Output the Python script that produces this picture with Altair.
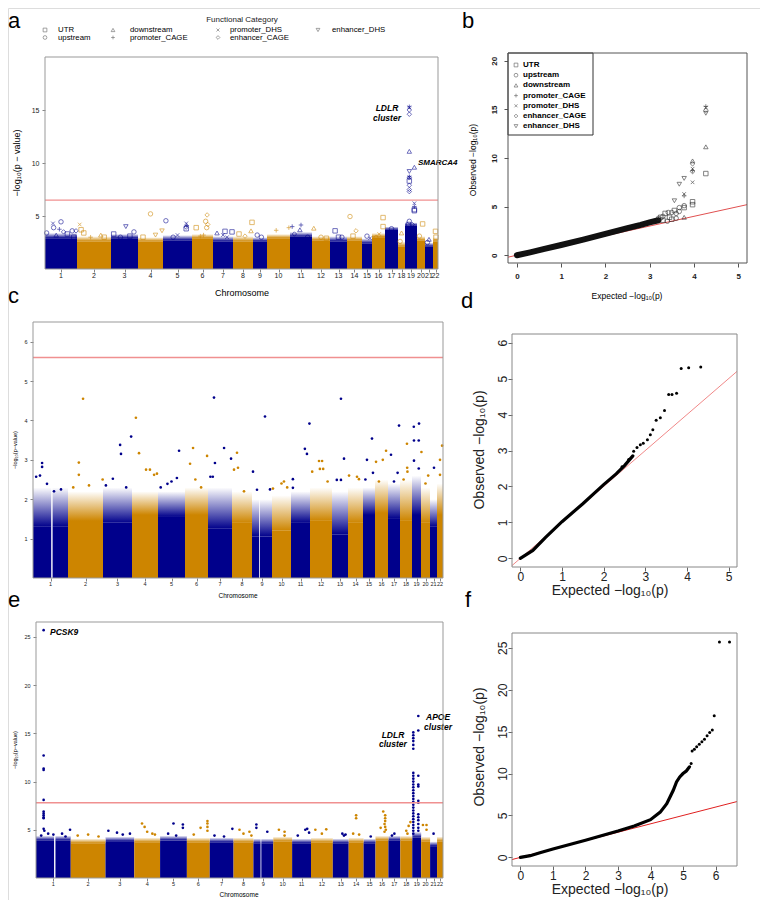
import altair as alt
import numpy as np
import pandas as pd

FONT = "Liberation Sans"
BLUE = "#00008B"
ORANGE = "#CD8500"
RED_THR = "#F09090"
CHROMS = [str(i) for i in range(1, 23)]

CATS = ["UTR", "upstream", "downstream", "promoter_CAGE",
        "promoter_DHS", "enhancer_CAGE", "enhancer_DHS"]
CAT_SHAPES = ["square", "circle", "triangle-up", "M-1,0H1M0,-1V1",
              "M-0.8,-0.8L0.8,0.8M-0.8,0.8L0.8,-0.8", "diamond", "triangle-down"]
CODE = {"U": "UTR", "up": "upstream", "dn": "downstream", "pC": "promoter_CAGE",
        "pD": "promoter_DHS", "eC": "enhancer_CAGE", "eD": "enhancer_DHS"}

# ---------------- panel a : functional-category Manhattan ----------------
a_widths = [32, 34, 27, 25, 29, 21, 20, 20, 14, 23, 22, 18, 17, 15, 10, 13, 13, 7, 12, 8, 8, 5]
a_band = [2.9, 2.6, 2.9, 2.6, 2.7, 2.9, 2.6, 2.6, 2.6, 2.9, 3.05, 2.7, 2.6, 2.7, 2.4, 3.0, 3.7, 2.1, 4.1, 2.7, 2.1, 2.6]
a_top = [3.4, 3.1, 3.3, 3.0, 3.2, 3.3, 3.1, 3.1, 3.0, 3.3, 3.5, 3.1, 3.1, 3.1, 2.9, 3.4, 4.0, 2.6, 4.4, 3.1, 2.5, 3.0]
a_threshold = 6.5
a_points = [
    (1, 0.05, 3.4, "up"), (1, 0.25, 4.3, "pD"), (1, 0.27, 3.9, "up"), (1, 0.5, 4.45, "up"), (1, 0.45, 3.75, "pC"),
    (1, 0.58, 3.5, "eC"), (1, 0.7, 3.3, "U"), (1, 0.85, 3.6, "up"), (1, 0.35, 3.2, "dn"), (1, 0.97, 3.6, "eC"),
    (1, 0.9, 3.0, "U"),
    (2, 0.08, 4.2, "pD"), (2, 0.12, 3.7, "U"), (2, 0.2, 3.4, "U"), (2, 0.7, 3.2, "dn"), (2, 0.8, 3.0, "U"), (2, 0.4, 3.0, "pC"),
    (3, 0.55, 4.0, "eD"), (3, 0.1, 3.3, "U"), (3, 0.85, 3.5, "up"), (3, 0.7, 3.1, "U"), (3, 0.35, 3.0, "up"),
    (4, 0.5, 5.2, "up"), (4, 0.7, 3.2, "eD"), (4, 0.2, 3.0, "U"), (4, 0.96, 3.6, "eD"),
    (5, 0.1, 4.55, "up"), (5, 0.8, 4.3, "pD"), (5, 0.82, 4.1, "pC"), (5, 0.8, 3.95, "eC"), (5, 0.8, 3.8, "U"),
    (5, 0.5, 3.2, "pD"), (5, 0.35, 3.0, "up"),
    (6, 0.72, 5.1, "eC"), (6, 0.65, 4.5, "up"), (6, 0.75, 4.2, "eC"), (6, 0.7, 3.9, "up"), (6, 0.55, 3.2, "pC"),
    (6, 0.2, 3.9, "U"), (6, 0.4, 3.1, "pC"),
    (7, 0.2, 3.4, "dn"), (7, 0.6, 3.55, "U"), (7, 0.95, 3.5, "U"), (7, 0.7, 3.0, "pD"), (7, 0.5, 3.2, "pD"),
    (8, 0.3, 3.3, "U"), (8, 0.6, 3.1, "eC"), (8, 0.95, 4.4, "U"), (8, 0.9, 3.6, "dn"),
    (9, 0.3, 3.2, "up"), (9, 0.6, 3.0, "up"),
    (10, 0.4, 3.65, "pC"), (10, 0.95, 3.9, "pC"),
    (11, 0.1, 4.0, "pC"), (11, 0.5, 4.15, "pC"), (11, 0.45, 3.7, "dn"), (11, 0.2, 3.3, "eC"), (11, 0.8, 3.0, "up"),
    (12, 0.1, 3.85, "dn"), (12, 0.5, 3.0, "up"), (12, 0.8, 2.9, "U"),
    (13, 0.3, 3.6, "U"), (13, 0.5, 3.0, "U"), (13, 0.7, 3.0, "up"),
    (14, 0.2, 4.95, "up"), (14, 0.6, 3.6, "eC"), (14, 0.4, 3.1, "U"),
    (15, 0.5, 3.1, "up"), (15, 0.8, 2.9, "pD"),
    (16, 0.85, 4.85, "U"), (16, 0.85, 4.0, "U"), (16, 0.55, 3.3, "pD"), (16, 0.3, 3.0, "eC"),
    (17, 0.5, 3.8, "up"), (17, 0.3, 3.5, "dn"), (17, 0.8, 3.3, "pC"),
    (18, 0.5, 3.4, "dn"), (18, 0.3, 2.6, "up"),
    (19, 0.36, 15.3, "pC"), (19, 0.36, 15.25, "pD"), (19, 0.36, 15.0, "eC"), (19, 0.36, 14.6, "eC"),
    (19, 0.36, 11.1, "dn"), (19, 0.78, 9.6, "dn"), (19, 0.36, 9.2, "eD"), (19, 0.36, 8.7, "pC"),
    (19, 0.36, 8.65, "pD"), (19, 0.36, 8.6, "eC"), (19, 0.36, 8.3, "U"), (19, 0.36, 7.9, "eC"),
    (19, 0.36, 7.5, "eC"), (19, 0.36, 7.3, "eC"), (19, 0.78, 6.2, "pD"), (19, 0.78, 5.9, "pC"),
    (19, 0.78, 5.6, "U"), (19, 0.78, 5.5, "U"), (19, 0.36, 4.5, "up"), (19, 0.3, 4.2, "U"), (19, 0.6, 4.2, "eC"),
    (20, 0.7, 4.25, "U"), (20, 0.3, 3.1, "up"),
    (21, 0.5, 2.8, "dn"), (21, 0.3, 2.5, "up"),
    (22, 0.5, 3.55, "U"), (22, 0.6, 3.0, "U"),
]

# ---------------- panel b : QQ by category ----------------
b_dense_exp = [0.0, 0.3, 0.6, 1.0, 1.5, 2.0, 2.5, 2.8, 3.0, 3.2]
b_dense_obs = [0.0, 0.3, 0.63, 1.05, 1.6, 2.2, 2.78, 3.12, 3.38, 3.6]
b_points = [
    (4.27, 15.3, "pC"), (4.27, 15.2, "pD"), (4.27, 14.9, "eC"), (4.27, 14.6, "eD"), (4.27, 11.15, "dn"), (4.27, 8.4, "U"),
    (3.97, 9.7, "dn"), (3.97, 9.4, "eC"), (3.97, 8.9, "pD"), (3.97, 8.7, "pC"), (3.97, 8.6, "eC"), (3.97, 7.5, "pD"),
    (3.97, 5.5, "U"), (3.97, 5.2, "U"),
    (3.78, 7.9, "eD"), (3.78, 6.3, "pD"), (3.78, 6.1, "pC"), (3.78, 5.1, "up"), (3.78, 4.9, "U"), (3.78, 3.9, "dn"),
    (3.67, 7.3, "eD"), (3.67, 4.9, "up"), (3.67, 4.5, "up"),
    (3.56, 5.6, "eD"), (3.56, 4.6, "U"), (3.5, 4.4, "up"), (3.42, 4.4, "up"), (3.35, 4.3, "U"), (3.6, 4.3, "up"),
    (3.3, 4.0, "up"), (3.25, 3.9, "U"), (3.2, 3.8, "up"), (3.45, 3.9, "U"), (3.4, 3.5, "up"), (3.3, 3.6, "U"),
    (3.5, 3.7, "U"), (3.6, 3.8, "up"),
]

# ---------------- panels c / e : genome-wide Manhattan ----------------
ce_widths = [35, 35, 29, 26, 27, 23, 24, 20, 20, 19, 19, 22, 16, 15, 12, 13, 12, 12, 9, 9, 7, 6]
ce_gaps = {1: (0.52, 0.56), 9: (0.36, 0.40)}
c_solid = [1.3, 1.45, 1.4, 1.6, 1.55, 1.6, 1.25, 1.4, 1.05, 1.2, 1.4, 1.45, 1.1, 1.4, 1.6, 1.65, 1.5, 1.45, 1.6, 1.4, 1.3, 1.6]
c_top = [2.3, 2.2, 2.3, 2.2, 2.2, 2.3, 2.3, 2.2, 2.0, 2.1, 2.2, 2.3, 2.2, 2.3, 2.3, 2.5, 2.4, 2.5, 2.6, 2.3, 2.0, 2.4]
c_threshold = 5.6
c_points = [
    (2, 0.43, 4.55), (7, 0.25, 4.58), (4, 0.15, 4.07), (3, 0.97, 3.59), (3, 0.59, 3.38), (3, 0.62, 3.15),
    (4, 0.27, 3.17), (2, 0.31, 2.93), (2, 0.31, 2.62), (1, 0.26, 2.92), (1, 0.26, 2.82), (1, 0.2, 2.6),
    (1, 0.09, 2.57), (4, 0.54, 2.75), (4, 0.69, 2.75), (4, 0.85, 2.62), (4, 0.96, 2.65), (5, 0.78, 3.23),
    (6, 0.35, 3.3), (6, 0.22, 2.9), (6, 0.96, 3.1), (7, 0.29, 2.92), (7, 0.67, 3.3), (7, 0.96, 3.03),
    (8, 0.25, 3.18), (8, 0.1, 2.75), (7, 0.1, 2.57), (7, 0.2, 2.57), (6, 0.45, 2.5), (5, 0.7, 2.54),
    (5, 0.35, 2.39), (2, 0.99, 2.5), (3, 0.34, 2.52), (1, 0.4, 2.39),
    (13, 0.56, 4.55), (9, 0.65, 4.1), (11, 0.97, 3.92), (11, 0.73, 3.28), (11, 0.84, 3.15), (13, 0.75, 3.03),
    (8, 0.3, 2.8), (9, 0.05, 2.7), (12, 0.41, 2.97), (12, 0.55, 2.97), (12, 0.45, 2.77), (12, 0.6, 2.77),
    (12, 0.1, 2.7), (15, 0.75, 3.54), (15, 0.33, 3.0), (15, 0.83, 2.67), (16, 0.08, 2.95), (16, 0.6, 3.0),
    (16, 0.85, 3.23), (17, 0.25, 3.13), (17, 0.92, 3.87), (18, 0.58, 3.41), (18, 0.6, 2.8), (18, 0.62, 2.7),
    (19, 0.2, 3.84), (19, 0.78, 3.92), (19, 0.22, 3.49), (19, 0.75, 3.49), (19, 0.22, 2.98), (19, 0.75, 2.78),
    (20, 0.05, 3.2), (22, 0.5, 3.0), (22, 0.85, 3.36), (22, 0.5, 2.62), (21, 0.57, 2.8), (17, 0.8, 2.67),
    (13, 0.3, 2.49), (13, 0.56, 2.49), (14, 0.07, 2.6), (14, 0.6, 2.57), (14, 0.73, 2.51), (11, 0.1, 2.51),
    (11, 0.1, 2.29), (10, 0.63, 2.45), (10, 0.5, 2.4), (9, 0.25, 2.24), (10, 0.05, 2.27),
    (1, 0.6, 2.2), (1, 0.8, 2.25), (2, 0.6, 2.35), (2, 0.15, 2.3), (3, 0.1, 2.35), (3, 0.8, 2.3),
    (5, 0.1, 2.3), (5, 0.5, 2.45), (6, 0.7, 2.3), (8, 0.6, 2.2), (9, 0.9, 2.25), (10, 0.8, 2.3),
    (12, 0.8, 2.45), (15, 0.2, 2.5), (16, 0.3, 2.45), (17, 0.5, 2.45), (18, 0.3, 2.5), (20, 0.5, 2.4),
    (20, 0.8, 2.6),
]

e_solid = [3.9, 3.6, 3.8, 3.7, 3.9, 3.7, 3.7, 3.7, 3.6, 3.8, 3.6, 3.7, 3.6, 3.7, 3.6, 3.9, 3.9, 3.9, 4.2, 3.8, 3.3, 3.8]
e_top = [4.4, 4.1, 4.3, 4.2, 4.4, 4.2, 4.2, 4.2, 4.1, 4.3, 4.1, 4.2, 4.1, 4.2, 4.1, 4.4, 4.4, 4.4, 4.8, 4.3, 3.8, 4.3]
e_threshold = 7.8
e_points = [
    (1, 0.22, 25.7), (1, 0.22, 12.7), (1, 0.22, 11.35), (1, 0.22, 11.2), (1, 0.22, 8.1), (1, 0.22, 6.9),
    (1, 0.22, 6.7), (1, 0.22, 6.5), (1, 0.22, 6.3), (1, 0.22, 6.2), (1, 0.22, 5.1), (1, 0.24, 4.9),
    (1, 0.35, 4.6), (1, 0.5, 4.5), (1, 0.15, 4.4), (1, 0.75, 4.6), (1, 0.85, 4.3), (1, 0.98, 5.0),
    (2, 0.2, 4.4), (2, 0.5, 4.5), (2, 0.8, 4.3),
    (3, 0.1, 4.9), (3, 0.4, 4.7), (3, 0.6, 4.5), (3, 0.85, 4.6),
    (4, 0.3, 5.65), (4, 0.4, 5.3), (4, 0.5, 4.8), (4, 0.7, 4.6), (4, 0.8, 4.5),
    (5, 0.5, 5.65), (5, 0.85, 5.55), (5, 0.85, 5.2), (5, 0.3, 4.6), (5, 0.6, 4.4),
    (6, 0.6, 5.2), (6, 0.9, 5.9), (6, 0.9, 5.65), (6, 0.9, 5.3), (6, 0.9, 4.9), (6, 0.3, 4.5),
    (7, 0.2, 4.4), (7, 0.6, 4.3), (7, 0.95, 5.1),
    (8, 0.3, 5.0), (8, 0.5, 4.6), (8, 0.8, 4.8), (8, 0.9, 4.4),
    (9, 0.15, 5.55), (9, 0.15, 5.2), (9, 0.7, 4.8),
    (10, 0.3, 5.0), (10, 0.6, 4.8), (10, 0.6, 4.4),
    (11, 0.7, 5.0), (11, 0.8, 5.1), (11, 0.9, 4.7), (11, 0.3, 4.4),
    (12, 0.2, 5.0), (12, 0.7, 5.05), (12, 0.5, 4.6),
    (13, 0.6, 4.6), (13, 0.7, 4.4), (13, 0.8, 4.5),
    (14, 0.5, 6.5), (14, 0.5, 6.2), (14, 0.3, 4.6), (14, 0.7, 4.5),
    (15, 0.6, 4.3),
    (16, 0.6, 6.9), (16, 0.75, 6.5), (16, 0.75, 6.2), (16, 0.75, 5.9), (16, 0.7, 5.6), (16, 0.75, 5.3),
    (16, 0.4, 5.2), (16, 0.8, 5.0), (16, 0.7, 4.8),
    (17, 0.5, 4.6), (17, 0.3, 4.4),
    (18, 0.85, 5.8), (18, 0.7, 5.4), (18, 0.5, 4.9), (18, 0.6, 4.6),
    (19, 0.12, 15.1), (19, 0.12, 14.8), (19, 0.12, 14.5), (19, 0.12, 14.2), (19, 0.12, 13.8), (19, 0.12, 13.4),
    (19, 0.12, 10.9), (19, 0.12, 10.6), (19, 0.12, 10.3), (19, 0.12, 10.0), (19, 0.12, 9.7), (19, 0.12, 9.4),
    (19, 0.12, 9.1), (19, 0.12, 8.8), (19, 0.12, 8.5), (19, 0.12, 8.2), (19, 0.12, 7.9), (19, 0.12, 7.6),
    (19, 0.12, 7.3), (19, 0.12, 7.0), (19, 0.12, 6.7), (19, 0.12, 6.4), (19, 0.12, 6.1), (19, 0.12, 5.8),
    (19, 0.12, 5.5), (19, 0.12, 5.2), (19, 0.12, 4.9), (19, 0.12, 4.6),
    (19, 0.68, 16.8), (19, 0.68, 15.3), (19, 0.68, 10.6), (19, 0.68, 9.7), (19, 0.68, 9.5), (19, 0.68, 8.0),
    (19, 0.68, 7.8), (19, 0.68, 6.6), (19, 0.68, 6.3), (19, 0.68, 6.0), (19, 0.68, 5.6), (19, 0.68, 5.2),
    (19, 0.68, 4.9),
    (20, 0.2, 5.5), (20, 0.6, 5.5), (20, 0.6, 5.0),
    (21, 0.5, 4.6),
]

# ---------------- panels d / f : QQ ----------------
d_dense_exp = [0.0, 0.3, 0.6, 1.0, 1.5, 2.0, 2.3, 2.5, 2.7]
d_dense_obs = [0.0, 0.22, 0.58, 1.02, 1.52, 2.05, 2.35, 2.58, 2.85]
d_pts_exp = [2.44, 2.6, 2.72, 2.8, 2.88, 2.95, 3.05, 3.12, 3.18, 3.26, 3.36, 3.46, 3.56, 3.64, 3.75, 3.86, 4.04, 4.33]
d_pts_obs = [2.55, 2.75, 2.98, 3.08, 3.16, 3.2, 3.3, 3.44, 3.58, 3.84, 3.91, 4.11, 4.56, 4.56, 4.59, 5.28, 5.3, 5.32]

f_dense_exp = [0.0, 0.3, 0.6, 1.0, 2.0, 3.0, 3.5, 4.0, 4.3, 4.5, 4.6, 4.7, 4.8, 4.9, 5.0, 5.1, 5.2]
f_dense_obs = [0.0, 0.2, 0.55, 1.0, 2.05, 3.15, 3.75, 4.5, 5.4, 6.4, 7.2, 8.0, 9.0, 9.6, 10.0, 10.3, 10.8]
f_pts_exp = [5.25, 5.28, 5.35, 5.42, 5.5, 5.58, 5.66, 5.74, 5.82, 5.9, 5.96, 6.12, 6.43]
f_pts_obs = [11.2, 12.7, 12.9, 13.2, 13.5, 13.8, 14.1, 14.5, 14.9, 15.2, 16.9, 25.7, 25.7]

# ======================= layout helpers =======================
OFF = 8                 # page margin: image pixel -> chart pixel
W_T, H_T = 752, 892


def cx(x):
    return x - OFF


def cy(y):
    return y - OFF


def one():
    return pd.DataFrame({"k": [0]})


def ptext(txt, x, y, size, weight="normal", style="normal", angle=0,
          align="center", baseline="middle", color="#000000"):
    return alt.Chart(one()).mark_text(
        text=txt, fontSize=size, fontWeight=weight, fontStyle=style, angle=angle,
        align=align, baseline=baseline, fill=color, font=FONT
    ).encode(x=alt.value(cx(x)), y=alt.value(cy(y)))


def letter(ch, x, y):
    return ptext(ch, x, y, 22, align="left", baseline="alphabetic")


class Panel:
    def __init__(self, x0, x1, yt, yb, xdom, ydom):
        self.x0, self.x1, self.yt, self.yb = x0, x1, yt, yb
        self.xdom, self.ydom = xdom, ydom
        self.sx = alt.Scale(domain=xdom, range=[cx(x0), cx(x1)], nice=False, zero=False)
        self.sy = alt.Scale(domain=ydom, range=[cy(yb), cy(yt)], nice=False, zero=False)

    def X(self, f):
        return alt.X(f, type="quantitative", scale=self.sx, axis=None)

    def Y(self, f):
        return alt.Y(f, type="quantitative", scale=self.sy, axis=None)

    def xaxis(self, **kw):
        return alt.Axis(orient="bottom", offset=cy(self.yb) - H_T, grid=False, domain=False,
                        title=None, labelFlush=False, labelOverlap=False, **kw)

    def yaxis(self, **kw):
        return alt.Axis(orient="left", offset=-cx(self.x0), grid=False, domain=False,
                        title=None, labelFlush=False, labelOverlap=False, **kw)

    def axes(self, xaxis, yaxis):
        df = pd.DataFrame({"ax": [self.xdom[0]], "ay": [self.ydom[0]]})
        return alt.Chart(df).mark_point(opacity=0, size=1).encode(
            x=alt.X("ax:Q", scale=self.sx, axis=xaxis),
            y=alt.Y("ay:Q", scale=self.sy, axis=yaxis))

    def frame(self, color):
        return alt.Chart(one()).mark_rect(fillOpacity=0, stroke=color, strokeWidth=1).encode(
            x=alt.value(cx(self.x0)), x2=alt.value(cx(self.x1)),
            y=alt.value(cy(self.yt)), y2=alt.value(cy(self.yb)))

    def hline(self, value, color):
        df = pd.DataFrame({"hx": [self.xdom[0], self.xdom[1]], "hy": [value, value]})
        return alt.Chart(df).mark_line(stroke=color, strokeWidth=1.4, strokeOpacity=1).encode(
            x=self.X("hx"), y=self.Y("hy"))


def chrom_geom(widths):
    w = np.array(widths, dtype=float)
    starts = np.concatenate([[0.0], np.cumsum(w)[:-1]])
    return starts, w, starts + w / 2


def band_table(widths, solid, top, gaps):
    starts, w, centers = chrom_geom(widths)
    rows = []
    for i in range(len(widths)):
        segs = [(0.0, 1.0)]
        if (i + 1) in gaps:
            g0, g1 = gaps[i + 1]
            segs = [(0.0, g0), (g1, 1.0)]
        for f0, f1 in segs:
            rows.append(dict(x0=float(starts[i] + f0 * w[i]), x1=float(starts[i] + f1 * w[i]),
                             y0=0.0, ys=float(solid[i]), yt=float(top[i]),
                             par="odd" if i % 2 == 0 else "even",
                             col=BLUE if i % 2 == 0 else ORANGE))
    return pd.DataFrame(rows)


def grad(colr):
    return alt.LinearGradient(
        gradient="linear", x1=0, x2=0, y1=1, y2=0,
        stops=[alt.GradientStop(color=colr, offset=0), alt.GradientStop(color="#ffffff", offset=1)])


def pos_of(chrom, frac, starts, w):
    return float(starts[chrom - 1] + frac * w[chrom - 1])


shape_enc = alt.Shape("cat:N", scale=alt.Scale(domain=CATS, range=CAT_SHAPES), legend=None)


def manhattan(P, widths, solid, top, gaps, yticks, thr, tick_font, lab_font, lab_y):
    starts, w, centers = chrom_geom(widths)
    band = band_table(widths, solid, top, gaps)
    layers = [P.axes(
        P.xaxis(values=[float(c) for c in centers], labels=False, tickSize=3, tickColor="#666", tickWidth=0.8),
        P.yaxis(values=yticks, labelFontSize=tick_font, tickSize=3, tickColor="#666", tickWidth=0.8,
                labelPadding=3, labelColor="#222"))]
    layers.append(alt.Chart(band).mark_rect().encode(
        x=P.X("x0"), x2="x1:Q", y=P.Y("y0"), y2="ys:Q", color=alt.Color("col:N", scale=None)))
    for par, colr in [("odd", BLUE), ("even", ORANGE)]:
        layers.append(alt.Chart(band).transform_filter(alt.datum.par == par).mark_rect(
            color=grad(colr)).encode(x=P.X("x0"), x2="x1:Q", y=P.Y("ys"), y2="yt:Q"))
    labs = pd.DataFrame({"c": [float(c) for c in centers], "t": CHROMS})
    layers.append(alt.Chart(labs).mark_text(fontSize=lab_font, font=FONT, baseline="middle",
                                            fill="#222222").encode(
        x=P.X("c"), y=alt.value(cy(lab_y)), text="t:N"))
    return layers, starts, w


def ce_points_chart(P, points, starts, w):
    df = pd.DataFrame({
        "pos": [pos_of(c, f, starts, w) for c, f, v in points],
        "val": [v for c, f, v in points],
        "col": [BLUE if c % 2 == 1 else ORANGE for c, f, v in points],
    })
    return alt.Chart(df).mark_circle(size=7, opacity=1).encode(
        x=P.X("pos"), y=P.Y("val"), color=alt.Color("col:N", scale=None))


def ann_text(P, xs, ys, texts, size, align):
    df = pd.DataFrame({"x": xs, "y": ys, "t": texts})
    return alt.Chart(df).mark_text(fontSize=size, fontWeight="bold", fontStyle="italic",
                                   font=FONT, align=align, fill="#000000").encode(
        x=P.X("x"), y=P.Y("y"), text="t:N")


layers = []

# ======================= panel a =======================
PA = Panel(45, 438, 57, 269, [0, float(sum(a_widths))], [0, 20])
la, st_a, w_a = manhattan(PA, a_widths, a_band, a_top, {}, [5, 10, 15], a_threshold, 7, 7, 276)
layers += la
a_df = pd.DataFrame({
    "pos": [pos_of(c, f, st_a, w_a) for c, f, v, k in a_points],
    "val": [v for c, f, v, k in a_points],
    "cat": [CODE[k] for c, f, v, k in a_points],
    "col": [BLUE if c % 2 == 1 else ORANGE for c, f, v, k in a_points],
})
layers.append(alt.Chart(a_df).mark_point(filled=False, size=20, strokeWidth=0.8).encode(
    x=PA.X("pos"), y=PA.Y("val"), shape=shape_enc, color=alt.Color("col:N", scale=None)))
layers.append(PA.hline(a_threshold, RED_THR))
layers.append(ann_text(PA, [342.0, 342.0], [15.2, 14.25], ["LDLR", "cluster"], 8.5, "center"))
layers.append(ann_text(PA, [373.0], [10.0], ["SMARCA4"], 8, "left"))

# legend above panel a (4 columns, filled by column)
leg_sym_x = [45, 113, 218, 318]
leg_txt_x = [58, 130, 230, 332]
leg_row_y = [30, 37.5]
layers.append(ptext("Functional Category", 242, 20, 8, color="#222222"))
for i, cat in enumerate(CATS):
    col, row = i // 2, i % 2
    layers.append(alt.Chart(pd.DataFrame({"cat": [cat]})).mark_point(
        filled=False, size=14, strokeWidth=0.7, stroke="#444444").encode(
        x=alt.value(cx(leg_sym_x[col])), y=alt.value(cy(leg_row_y[row])), shape=shape_enc))
    layers.append(ptext(cat, leg_txt_x[col], leg_row_y[row], 7.8, align="left"))
layers.append(ptext("Chromosome", 242, 293, 9))
layers.append(ptext("\u2212log\u2081\u2080(p \u2212 value)", 17, 163, 9, angle=270))
layers.append(PA.frame("#999"))

# ======================= panel b =======================
PB = Panel(508, 747, 53, 263, [-0.2, 5.2], [-0.8, 20.8])
layers.append(PB.axes(
    PB.xaxis(values=[0, 1, 2, 3, 4, 5], labelFontSize=8, labelFontWeight="bold", tickSize=4,
             labelPadding=5, tickColor="#555", labelColor="#222"),
    PB.yaxis(values=[0, 5, 10, 15, 20], labelFontSize=8, labelFontWeight="bold", labelAngle=270,
             labelAlign="center", labelBaseline="alphabetic", tickSize=4, labelPadding=8,
             tickColor="#555", labelColor="#222")))
b_lo, b_hi = max(PB.xdom[0], PB.ydom[0]), min(PB.xdom[1], PB.ydom[1])
layers.append(alt.Chart(pd.DataFrame({"v": [b_lo, b_hi]})).mark_line(
    stroke="#E05050", strokeWidth=1).encode(x=PB.X("v"), y=PB.Y("v")))
layers.append(alt.Chart(pd.DataFrame({"e": b_dense_exp, "o": b_dense_obs})).mark_line(
    stroke="#111111", strokeWidth=6, strokeCap="round").encode(x=PB.X("e"), y=PB.Y("o")))
b_df = pd.DataFrame({"e": [p[0] for p in b_points], "o": [p[1] for p in b_points],
                     "cat": [CODE[p[2]] for p in b_points]})
layers.append(alt.Chart(b_df).mark_point(filled=False, size=20, strokeWidth=0.8, stroke="#222222").encode(
    x=PB.X("e"), y=PB.Y("o"), shape=shape_enc))
layers.append(alt.Chart(one()).mark_rect(fill="white", stroke="#333", strokeWidth=1).encode(
    x=alt.value(cx(508)), x2=alt.value(cx(593)), y=alt.value(cy(53)), y2=alt.value(cy(135))))
for i, cat in enumerate(CATS):
    yy = 65 + i * 10.2
    layers.append(alt.Chart(pd.DataFrame({"cat": [cat]})).mark_point(
        filled=False, size=14, strokeWidth=0.7, stroke="#333333").encode(
        x=alt.value(cx(516)), y=alt.value(cy(yy)), shape=shape_enc))
    layers.append(ptext(cat, 523, yy, 8, weight="bold", align="left"))
layers.append(ptext("Expected  \u2212log\u2081\u2080(p)", 627, 296, 8.5))
layers.append(ptext("Observed  \u2212log\u2081\u2080(p)", 473, 160, 8.5, angle=270))
layers.append(PB.frame("#555"))

# ======================= panel c =======================
PC = Panel(33, 443, 322, 578, [0, float(sum(ce_widths))], [0, 6.5])
lc, st_c, w_c = manhattan(PC, ce_widths, c_solid, c_top, ce_gaps, [1, 2, 3, 4, 5, 6], c_threshold, 5.5, 5.5, 584)
layers += lc
layers.append(ce_points_chart(PC, c_points, st_c, w_c))
layers.append(PC.hline(c_threshold, RED_THR))
layers.append(ptext("Chromosome", 238, 596, 6.5))
layers.append(ptext("\u2212log\u2081\u2080(p\u2212value)", 15, 450, 5.5, angle=270))
layers.append(PC.frame("#999"))

# ======================= panel e =======================
PE = Panel(36, 443, 622, 878, [0, float(sum(ce_widths))], [0, 26.55])
le, st_e, w_e = manhattan(PE, ce_widths, e_solid, e_top, ce_gaps, [5, 10, 15, 20, 25], e_threshold, 5.5, 5.5, 884)
layers += le
layers.append(ce_points_chart(PE, e_points, st_e, w_e))
layers.append(PE.hline(e_threshold, RED_THR))
layers.append(ann_text(PE, [14.1], [25.5], ["PCSK9"], 8.5, "left"))
layers.append(ann_text(PE, [359.6, 359.6, 405.0, 405.0], [14.8, 13.85, 16.7, 15.65],
                       ["LDLR", "cluster", "APOE", "cluster"], 8.5, "center"))
layers.append(ptext("Chromosome", 239, 895, 6.5))
layers.append(ptext("\u2212log\u2081\u2080(p\u2212value)", 15, 750, 5.5, angle=270))
layers.append(PE.frame("#999"))


# ======================= panels d / f =======================
def qq(P, xvals, yvals, red, dense_e, dense_o, pe, po, xtitle_y, ytitle_y):
    out = [P.axes(
        P.xaxis(values=xvals, labelFontSize=12, tickSize=4, labelPadding=0, tickColor="#666",
                labelColor="#222"),
        P.yaxis(values=yvals, labelFontSize=12, labelAngle=270, labelAlign="center",
                labelBaseline="alphabetic", tickSize=4, labelPadding=2, tickColor="#666",
                labelColor="#222"))]
    lo, hi = max(P.xdom[0], P.ydom[0]), min(P.xdom[1], P.ydom[1])
    out.append(alt.Chart(pd.DataFrame({"v": [lo, hi]})).mark_line(stroke=red, strokeWidth=1).encode(
        x=P.X("v"), y=P.Y("v")))
    out.append(alt.Chart(pd.DataFrame({"e": dense_e, "o": dense_o})).mark_line(
        stroke="#000000", strokeWidth=3.2, strokeCap="round").encode(x=P.X("e"), y=P.Y("o")))
    out.append(alt.Chart(pd.DataFrame({"e": pe, "o": po})).mark_circle(
        size=9, fill="#000000", opacity=1).encode(x=P.X("e"), y=P.Y("o")))
    out.append(ptext("Expected  \u2212log\u2081\u2080(p)", 610, xtitle_y, 14, color="#222222"))
    out.append(ptext("Observed  \u2212log\u2081\u2080(p)", 480, ytitle_y, 14, angle=270, color="#222222"))
    out.append(P.frame("#888"))
    return out


PD = Panel(512, 737, 334, 567, [-0.2, 5.2], [-0.24, 6.24])
layers += qq(PD, [0, 1, 2, 3, 4, 5], [0, 1, 2, 3, 4, 5, 6], "#F08888",
             d_dense_exp, d_dense_obs, d_pts_exp, d_pts_obs, 591, 450)
PF = Panel(512, 737, 633, 866, [-0.26, 6.66], [-1.03, 26.77])
layers += qq(PF, [0, 1, 2, 3, 4, 5, 6], [0, 5, 10, 15, 20, 25], "#E02020",
             f_dense_exp, f_dense_obs, f_pts_exp, f_pts_obs, 890, 747)

# panel letters
layers += [letter("a", 8, 28), letter("b", 462, 28), letter("c", 8, 303),
           letter("d", 461, 308), letter("e", 8, 607), letter("f", 465, 607)]

chart = alt.layer(*layers).resolve_scale(x="independent", y="independent").properties(
    width=W_T, height=H_T, padding=0, autosize=alt.AutoSizeParams(type="none")
).configure_view(stroke=None).configure(font=FONT).configure_axis(labelFont=FONT)

chart.save("out.html", embed_options={"renderer": "svg", "actions": False})
